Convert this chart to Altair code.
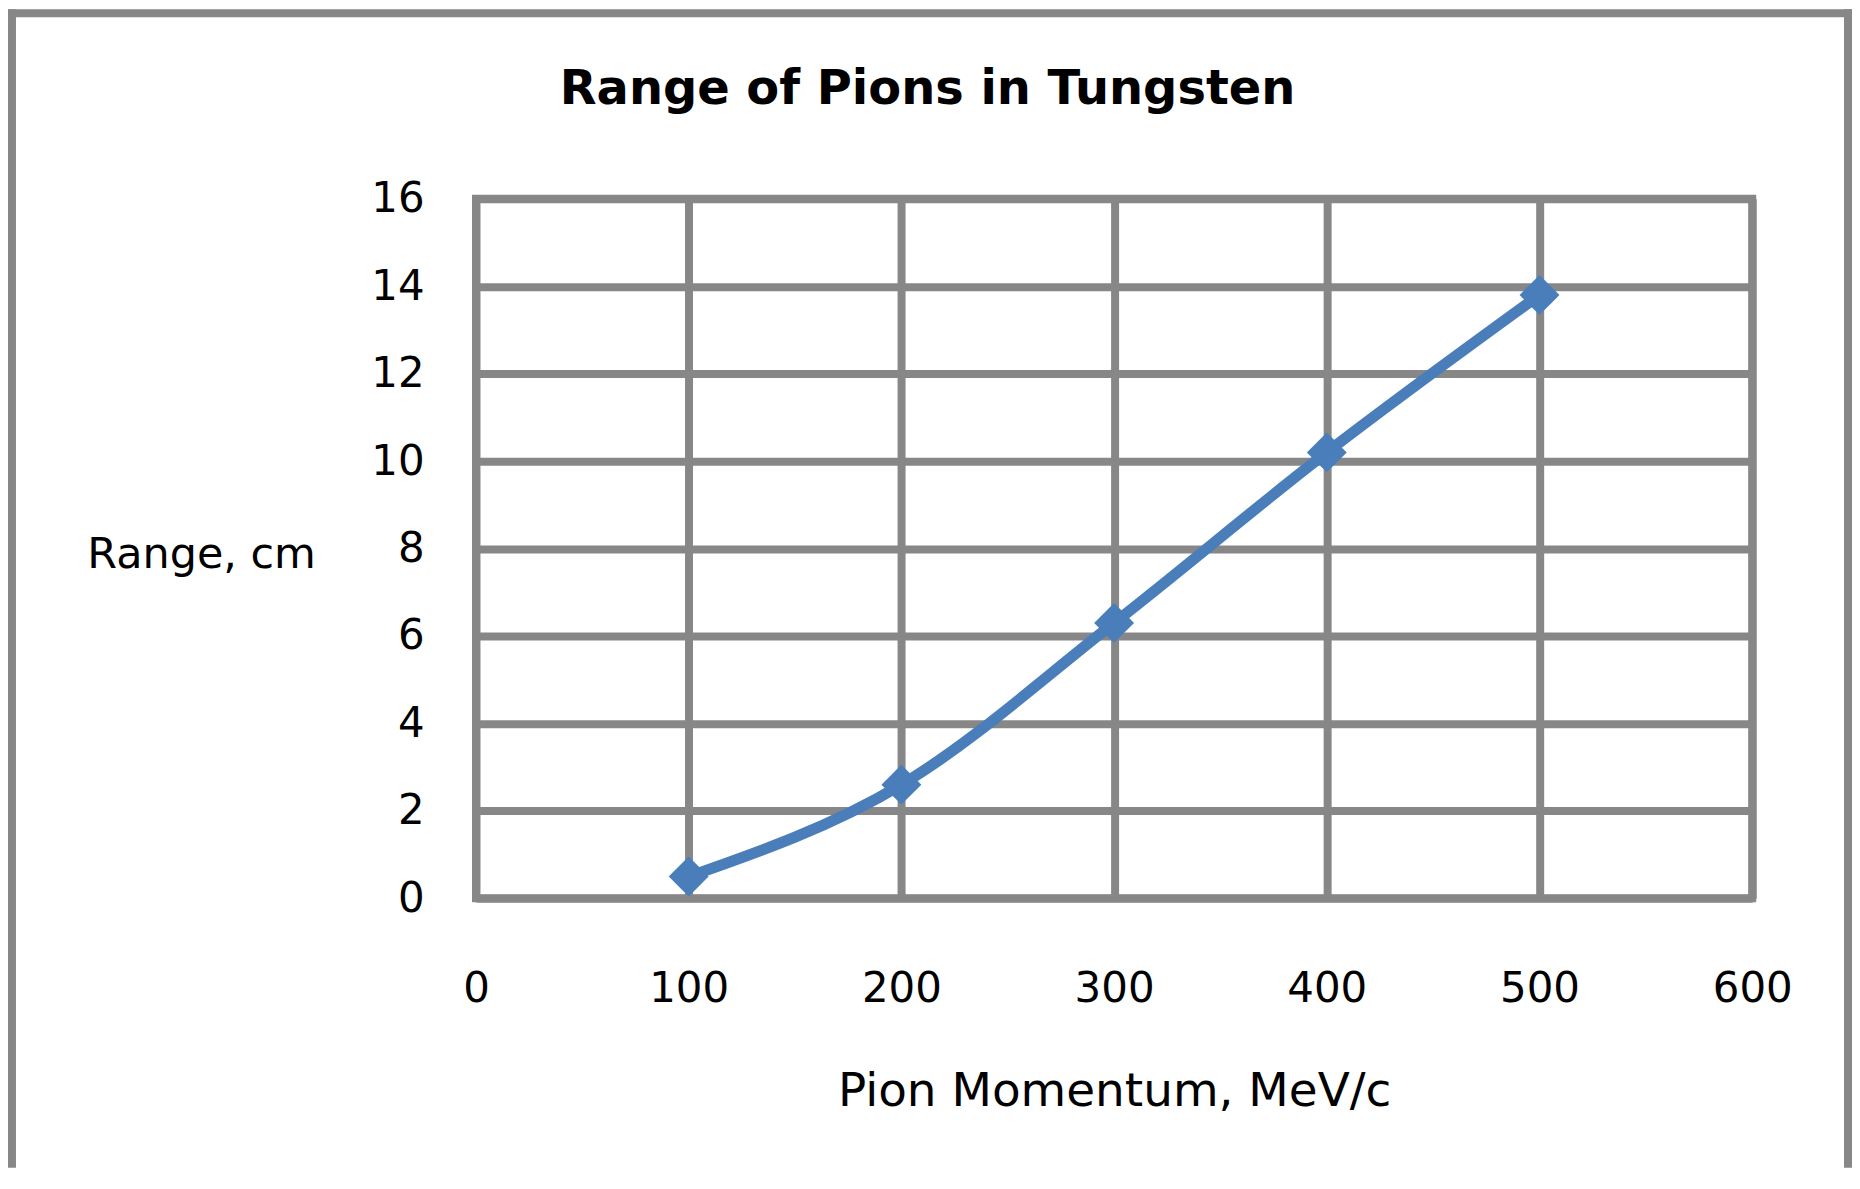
import altair as alt
import pandas as pd

# Data
momentum = [100, 200, 300, 400, 500]          # MeV/c
range_cm = [0.5, 2.6, 6.3, 10.2, 13.8]        # cm
x_ticks = [0, 100, 200, 300, 400, 500, 600]
y_ticks = [0, 2, 4, 6, 8, 10, 12, 14, 16]

df = pd.DataFrame({"momentum": momentum, "range": range_cm})
one = pd.DataFrame({"k": [0]})

W, H = 1279, 701
PAD_L, PAD_T, PAD_R, PAD_B = 469, 190, 100, 270
GRID = "#878787"
BLUE = "#4A7EBB"
FONT = "DejaVu Sans"

x_enc = alt.X(
    "momentum:Q",
    scale=alt.Scale(domain=[0, 600], nice=False, zero=True),
    axis=alt.Axis(
        values=x_ticks, title="Pion Momentum, MeV/c", grid=True,
        gridColor=GRID, gridWidth=8, gridOpacity=1, domain=False, ticks=False,
        labelPadding=70, labelFontSize=42, labelFont=FONT, labelColor="black",
        titleFont=FONT, titleFontSize=47, titleFontWeight="normal", titleColor="black",
        titleBaseline="alphabetic", titleY=208, labelFlush=False,
    ),
)
y_enc = alt.Y(
    "range:Q",
    scale=alt.Scale(domain=[0, 16], nice=False),
    axis=alt.Axis(
        values=y_ticks, title="Range, cm", grid=True,
        gridColor=GRID, gridWidth=8, gridOpacity=1, domain=False, ticks=False,
        labelPadding=52, labelFontSize=42, labelFont=FONT, labelColor="black",
        titleFont=FONT, titleFontSize=43, titleFontWeight="normal", titleColor="black",
        titleAngle=0, titleAlign="left", titleBaseline="alphabetic",
        titleX=-390, titleY=369, labelFlush=False,
    ),
)

line = alt.Chart(df).mark_line(color=BLUE, strokeWidth=11, interpolate="monotone").encode(
    x=x_enc, y=y_enc
)
points = alt.Chart(df).mark_point(
    shape="diamond", filled=True, size=1600, color=BLUE, opacity=1
).encode(x="momentum:Q", y="range:Q")

border_style = dict(color=GRID, strokeWidth=8)
left_b = alt.Chart(one).mark_rule(**border_style).encode(
    x=alt.value(-465), y=alt.value(-190), y2=alt.value(H + PAD_B))
top_b = alt.Chart(one).mark_rule(**border_style).encode(
    x=alt.value(-469), x2=alt.value(1379), y=alt.value(-186))
right_b = alt.Chart(one).mark_rule(**border_style).encode(
    x=alt.value(1375), y=alt.value(-190), y2=alt.value(H + PAD_B))

chart = alt.layer(left_b, top_b, right_b, line, points).properties(
    width=W, height=H,
    title=alt.TitleParams(
        "Range of Pions in Tungsten", font=FONT, fontSize=48, fontWeight="bold",
        color="black", anchor="middle", dx=-187, dy=147, baseline="alphabetic", offset=0,
    ),
    autosize=alt.AutoSizeParams(type="none"),
    padding={"left": PAD_L, "top": PAD_T, "right": PAD_R, "bottom": PAD_B},
    background="white",
).configure_view(stroke=GRID, strokeWidth=8)

chart.save("out.html", embed_options={"renderer": "svg", "actions": False})
